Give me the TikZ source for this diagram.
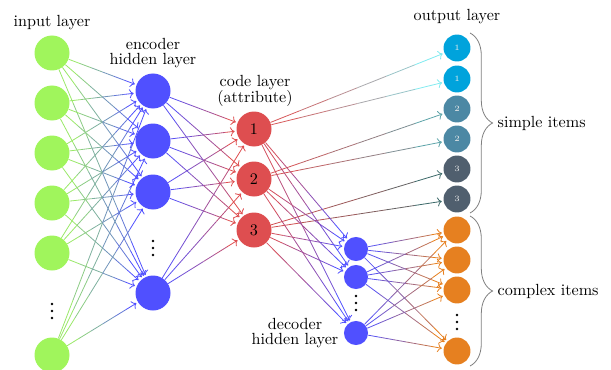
\documentclass[tikz,border=0pt]{standalone}
\usepackage{tikz}
\usetikzlibrary{arrows.meta, positioning, calc, decorations.pathreplacing}
\usepackage{xcolor}
\definecolor{ingreen}{RGB}{160,245,92}
\definecolor{hidblue}{RGB}{80,80,255}
\definecolor{codered}{RGB}{222,78,80}
\definecolor{outcyan}{RGB}{0,163,220}
\definecolor{outteal}{RGB}{76,136,164}
\definecolor{outslate}{RGB}{80,95,110}
\definecolor{outorange}{RGB}{230,128,32}
\definecolor{tipcyan}{RGB}{130,235,240}
\definecolor{tipteal}{RGB}{95,165,170}
\definecolor{tipslate}{RGB}{60,105,105}

% connector from node #1 to node #2, fading from colour #3 to colour #4
\newcommand{\gradedge}[4]{%
  \path (#1) -- (#2) coordinate[pos=0] (ga) coordinate[pos=1] (gb);
  \foreach \k in {1,...,5}{
    \pgfmathtruncatemacro{\mix}{100*(\k-0.5)/6}
    \draw[edge, color=#4!\mix!#3] ($(ga)!{(\k-1)/6}!(gb)$) -- ($(ga)!{\k/6}!(gb)$);
  }
  \draw[edge, color=#4, ->, shorten >=1pt] ($(ga)!{5/6}!(gb)$) -- (gb);
}

\begin{document}
\begin{tikzpicture}[
  x=0.62pt, y=-0.62pt,
  unit/.style={circle, inner sep=0pt, minimum size=21.7pt},
  smallunit/.style={circle, inner sep=0pt, minimum size=14.9pt},
  outunit/.style={circle, inner sep=0pt, minimum size=16.7pt, font=\tiny, text=white!85!gray},
  edge/.style={line width=0.5pt},
  layerlabel/.style={align=center, font=\fontsize{10}{9.8}\selectfont},
  bracelabel/.style={anchor=west},
  itembrace/.style={decorate, decoration={brace, amplitude=14pt}, gray, line width=0.5pt},
]
  \useasboundingbox (0,0) rectangle (611,370);

  % layers
  \foreach \y [count=\i] in {53,103,153,203,253,355}
    \node[unit, fill=ingreen] (in\i) at (52,\y) {};
  \foreach \y [count=\i] in {91,141,192,293}
    \node[unit, fill=hidblue] (enc\i) at (153,\y) {};
  \foreach \y [count=\i] in {129,179,230}
    \node[unit, fill=codered] (code\i) at (254,\y) {\i};
  \foreach \y [count=\i] in {249,277,333}
    \node[smallunit, fill=hidblue] (dec\i) at (356,\y) {};
  \foreach \y/\c/\t [count=\i] in {48/outcyan/1, 79/outcyan/1, 109/outteal/2, 139/outteal/2, 169/outslate/3, 199/outslate/3}
    \node[outunit, fill=\c] (out\i) at (457,\y) {\t};
  \foreach \y [count=\i] in {230,260,290,351}
    \node[outunit, fill=outorange] (cx\i) at (457,\y) {};

  % vertical dots
  \foreach \x/\y in {52/311, 153/248, 356/303, 457/322}
    \foreach \d in {-7,0,7}
      \fill (\x,\y+\d) circle (0.85pt);

  % labels
  \node[layerlabel] (inlabel) at (52,23) {input layer};
  \node[layerlabel] (enclabel) at (153,53) {encoder\\hidden layer};
  \node[layerlabel] (codelabel) at (255,91) {code layer\\(attribute)};
  \node[layerlabel] (declabel) at (295,333) {decoder\\hidden layer};
  \node[layerlabel] (outlabel) at (457,17) {output layer};

  % connectors
  \foreach \i in {1,...,6}
    \foreach \j in {1,...,4}
      {\gradedge{in\i}{enc\j}{ingreen}{hidblue}}
  \foreach \i in {1,...,4}
    \foreach \j in {1,...,3}
      {\gradedge{enc\i}{code\j}{hidblue}{codered}}
  \foreach \c/\o/\t in {1/1/tipcyan, 1/2/tipcyan, 2/3/tipteal, 2/4/tipteal, 3/5/tipslate, 3/6/tipslate}
    {\gradedge{code\c}{out\o}{codered}{\t}}
  \foreach \i in {1,...,3}
    \foreach \j in {1,...,3}
      {\gradedge{code\i}{dec\j}{codered}{hidblue}}
  \foreach \i in {1,...,3}
    \foreach \j in {1,...,4}
      {\gradedge{dec\i}{cx\j}{hidblue}{outorange}}

  % braces
  \coordinate (stop) at (470,33);
  \coordinate (sbot) at (470,213);
  \coordinate (ctop) at (470,216);
  \coordinate (cbot) at (470,366);
  \draw[itembrace] (stop) -- (sbot);
  \draw[itembrace] (ctop) -- (cbot);
  \node[bracelabel] (simplelabel) at (492,123) {simple items};
  \node[bracelabel] (complexlabel) at (492,291) {complex items};
\end{tikzpicture}
\end{document}
